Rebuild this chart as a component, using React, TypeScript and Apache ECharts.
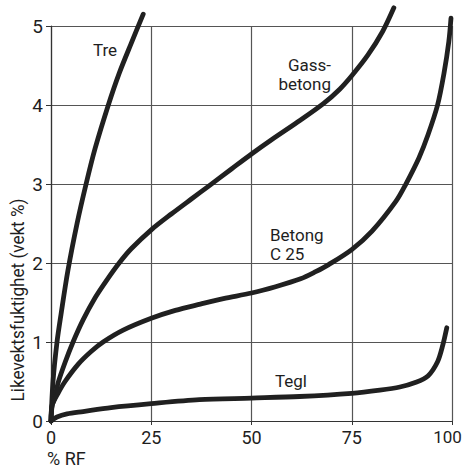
import React, { useEffect, useRef } from "react";
import * as echarts from "echarts";

const xTicks = [0, 25, 50, 75, 100];
const yTicks = [0, 1, 2, 3, 4, 5];

const treX = [0, 0.5, 1.5, 2.5, 4.2, 6.5, 8.75, 11, 14.3, 17, 20, 23];
const treY = [0, 0.5, 1, 1.35, 1.9, 2.5, 3, 3.45, 4, 4.4, 4.78, 5.15];

const gassX = [0, 0.3, 1, 1.75, 3.5, 5.5, 8, 11, 14, 17, 20, 25, 30, 35, 39.25, 45, 50, 55, 62.25, 68, 72, 75, 79, 82.7, 85.5];
const gassY = [0, 0.2, 0.3, 0.48, 0.74, 1, 1.28, 1.56, 1.79, 2, 2.18, 2.42, 2.62, 2.81, 2.97, 3.19, 3.38, 3.56, 3.81, 4.02, 4.2, 4.37, 4.63, 4.93, 5.23];

const betongX = [0, 0.3, 1.75, 3.5, 6.8, 10, 13, 18, 25, 31, 37.25, 43, 50, 56, 62.25, 66, 69.25, 75, 80, 86, 88.5, 91.75, 94, 96.4, 98, 99.2, 99.75];
const betongY = [0, 0.2, 0.35, 0.5, 0.72, 0.88, 1, 1.15, 1.3, 1.4, 1.48, 1.55, 1.62, 1.7, 1.8, 1.89, 1.98, 2.17, 2.4, 2.78, 3, 3.33, 3.62, 4, 4.4, 4.8, 5.1];

const teglX = [0, 1.5, 4, 8, 15, 25, 37, 50, 62, 75, 82, 87, 91, 94, 96.4, 97.7, 98.7];
const teglY = [0, 0.05, 0.09, 0.12, 0.17, 0.22, 0.27, 0.29, 0.31, 0.35, 0.39, 0.43, 0.49, 0.57, 0.75, 0.96, 1.18];

const curveNames = ["Tre", "Gassbetong", "Betong C 25", "Tegl"];
const xAxisName = "% RF";
const yAxisName = "Likevektsfuktighet (vekt %)";

const FONT = "Roboto, 'Noto Sans', sans-serif";
const INK = "#1e1e1e";

function pairs(xs: number[], ys: number[]) {
  return xs.map((x, i) => [x, ys[i]]);
}

export default function App() {
  const ref = useRef<HTMLDivElement>(null);
  useEffect(() => {
    if (!ref.current) return;
    const chart = echarts.init(ref.current, null, { renderer: "svg" });
    const lineSeries = (name: string, xs: number[], ys: number[]) => ({
      type: "line",
      name,
      data: pairs(xs, ys),
      smooth: 0.3,
      showSymbol: false,
      clip: false,
      lineStyle: { color: "#202020", width: 4.8, cap: "round", join: "round" },
    });
    chart.setOption({
      animation: false,
      backgroundColor: "#ffffff",
      grid: {
        left: 51,
        right: 10,
        top: 26,
        bottom: 47,
        containLabel: false,
        outerBoundsMode: "none",
      },
      xAxis: {
        type: "value",
        min: 0,
        max: 100,
        interval: 25,
        axisLine: { show: true, onZero: false, lineStyle: { color: "#333", width: 1.2 } },
        axisTick: { show: true, length: 4, lineStyle: { color: "#333" } },
        axisLabel: {
          color: INK,
          fontFamily: FONT,
          fontSize: 18,
          margin: 7,
          formatter: (v: number) =>
            v === 100 ? "{last|100}" : xTicks.includes(v) ? String(v) : "",
          rich: {
            last: {
              color: INK,
              fontFamily: FONT,
              fontSize: 17,
              padding: [0, 9, 0, 0],
            },
          },
        },
        splitLine: { show: true, lineStyle: { color: "#555", width: 1.2 } },
      },
      yAxis: {
        type: "value",
        min: 0,
        max: 5,
        interval: 1,
        axisLine: { show: true, onZero: false, lineStyle: { color: "#333", width: 1.2 } },
        axisTick: { show: true, length: 5, lineStyle: { color: "#333" } },
        axisLabel: {
          color: INK,
          fontFamily: FONT,
          fontSize: 19,
          margin: 8,
          formatter: (v: number) => (yTicks.includes(v) ? String(v) : ""),
        },
        splitLine: { show: true, lineStyle: { color: "#555", width: 1.2 } },
      },
      graphic: [
        {
          type: "text",
          x: 18,
          y: 300,
          rotation: Math.PI / 2,
          scaleX: 0.95,
          style: {
            text: yAxisName,
            fill: INK,
            font: `18px ${FONT}`,
            align: "center",
            verticalAlign: "middle",
          },
        },
        {
          type: "text",
          x: 47,
          y: 458,
          style: { text: xAxisName, fill: INK, font: `18px ${FONT}`, align: "left", verticalAlign: "middle" },
        },
        {
          type: "text",
          x: 105,
          y: 50,
          style: { text: "Tre", fill: INK, font: `17px ${FONT}`, align: "center", verticalAlign: "middle" },
        },
        {
          type: "text",
          x: 331,
          y: 74,
          style: {
            text: "Gass-\nbetong",
            fill: INK,
            font: `17px ${FONT}`,
            lineHeight: 19,
            align: "right",
            verticalAlign: "middle",
          },
        },
        {
          type: "text",
          x: 270,
          y: 244,
          style: {
            text: "Betong\nC 25",
            fill: INK,
            font: `17px ${FONT}`,
            lineHeight: 19,
            align: "left",
            verticalAlign: "middle",
          },
        },
        {
          type: "text",
          x: 291,
          y: 381,
          style: { text: "Tegl", fill: INK, font: `17px ${FONT}`, align: "center", verticalAlign: "middle" },
        },
      ],
      series: [
        lineSeries(curveNames[0], treX, treY),
        lineSeries(curveNames[1], gassX, gassY),
        lineSeries(curveNames[2], betongX, betongY),
        lineSeries(curveNames[3], teglX, teglY),
      ],
    });
    return () => chart.dispose();
  }, []);
  return (
    <div
      ref={ref}
      style={{ position: "fixed", left: 0, top: 0, width: 462, height: 468, background: "#fff" }}
    />
  );
}
